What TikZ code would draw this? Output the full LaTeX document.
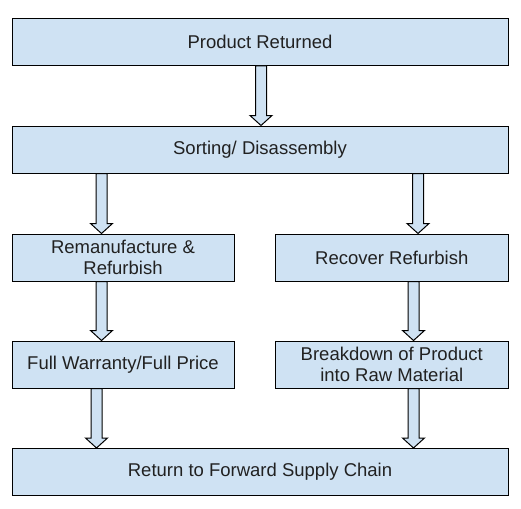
\documentclass[tikz,border=0pt]{standalone}
\usepackage{fontspec}
\setmainfont{Liberation Sans}
\usetikzlibrary{calc}
\definecolor{boxblue}{HTML}{CFE2F3}

% block arrow: x position, from node, to node
\newcommand{\blockarrow}[3]{%
    \draw[arrowbody] let \p1=(#2.south), \p2=(#3.north) in
        (#1pt-5.5pt,\y1) -- (#1pt+5.5pt,\y1) -- (#1pt+5.5pt,\y2+10pt)
        -- (#1pt+11pt,\y2+10pt) -- (#1pt,\y2) -- (#1pt-11pt,\y2+10pt)
        -- (#1pt-5.5pt,\y2+10pt) -- cycle;}

\begin{document}
\begin{tikzpicture}[x=1pt, y=-1pt,
    stagebox/.style={draw=black, fill=boxblue, line width=1pt,
        minimum height=47pt, inner sep=0pt, align=center,
        font=\fontsize{18.5}{21.7}\selectfont, text=black!87},
    wide/.style={stagebox, minimum width=496pt},
    half/.style={stagebox, minimum width=222pt},
    halfright/.style={stagebox, minimum width=232.5pt},
    arrowbody/.style={draw=black, fill=boxblue, line width=1pt, line join=miter}]
\useasboundingbox (0,0) rectangle (521,508);

    %boxes
    \node[wide] (returned) at (260,42) {Product Returned};
    \node[wide] (sorting) at (260,149.5) {Sorting/ Disassembly};
    \node[half] (reman) at (123,257.5) {Remanufacture \&\\Refurbish};
    \node[halfright] (recover) at (391.75,257.5) {Recover Refurbish};
    \node[half] (warranty) at (123,364.5) {Full Warranty/Full Price};
    \node[halfright] (breakdown) at (391.75,364.5) {Breakdown of Product\\into Raw Material};
    \node[wide] (forward) at (260,472) {Return to Forward Supply Chain};

    %arrows
    \blockarrow{261}{returned}{sorting}
    \blockarrow{101.5}{sorting}{reman}
    \blockarrow{418}{sorting}{recover}
    \blockarrow{101.5}{reman}{warranty}
    \blockarrow{413.5}{recover}{breakdown}
    \blockarrow{96.5}{warranty}{forward}
    \blockarrow{413.5}{breakdown}{forward}

\end{tikzpicture}
\end{document}
